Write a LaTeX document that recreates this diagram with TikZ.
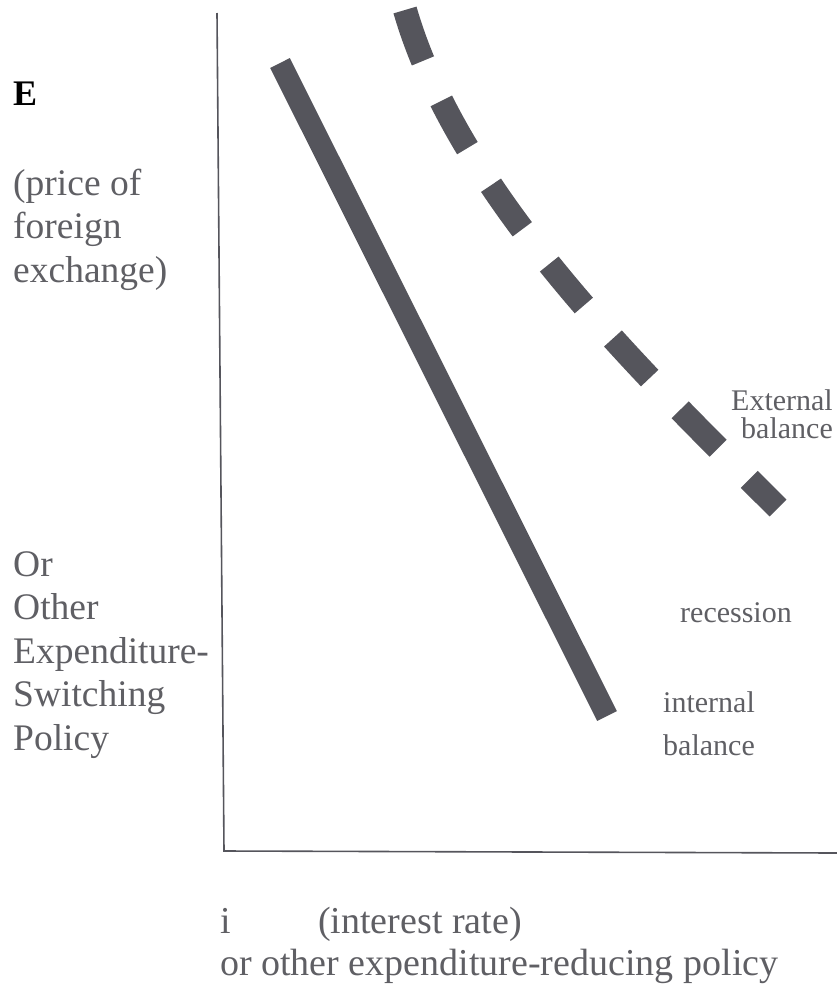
\documentclass[tikz,border=0pt]{standalone}
\usepackage{fontspec}
\setmainfont{Liberation Serif}
\usetikzlibrary{calc}
\definecolor{inkgray}{RGB}{85,85,92}
\definecolor{textgray}{RGB}{95,95,100}

\begin{document}
\begin{tikzpicture}[x=1pt,y=-1pt,
    biglbl/.style={inner sep=0pt,text=textgray,align=left,font=\fontsize{37.5}{43.5}\selectfont},
    smalllbl/.style={inner sep=0pt,text=textgray,font=\fontsize{30}{28}\selectfont},
    curve/.style={inkgray,line cap=butt}]
    \useasboundingbox (0,0) rectangle (837,991);
    % axes
    \coordinate (ytop) at (217,13);
    \coordinate (O) at (224,851);
    \coordinate (xend) at (837,853);
    \draw[inkgray,line width=1.6pt](ytop)--(O)--(xend);
    % internal balance
    \coordinate (ib1) at (280,63);
    \coordinate (ib2) at (607,716);
    \draw[curve,line width=22pt](ib1)--(ib2);
    % external balance
    \coordinate (eb1) at (405,10);
    \coordinate (eb2) at (778,508);
    \draw[curve,line width=24pt,dash pattern=on 54pt off 44pt](eb1)..controls(460,200)and(650,380)..(eb2);
    % labels (base anchor sits on the last line)
    \node[anchor=base west,inner sep=0pt,font=\fontsize{36}{43}\selectfont\bfseries](E) at (13,105){E};
    \node[biglbl,anchor=base west](price) at (13,282){(price of\\foreign\\exchange)};
    \node[biglbl,anchor=base west](switch) at (13,750){Or\\Other\\Expenditure-\\Switching\\Policy};
    \node[biglbl,anchor=base west,font=\fontsize{38}{42}\selectfont](irate) at (220,975){i\hspace{2.3em}(interest rate)\\or other expenditure-reducing policy};
    \node[smalllbl,align=right,anchor=base east](ext) at (833,438){External\\balance};
    \node[smalllbl,anchor=base west](rec) at (680,622){recession};
    \node[smalllbl,align=left,anchor=base west,font=\fontsize{30}{43}\selectfont](int) at (663,755){internal\\balance};
\end{tikzpicture}
\end{document}
